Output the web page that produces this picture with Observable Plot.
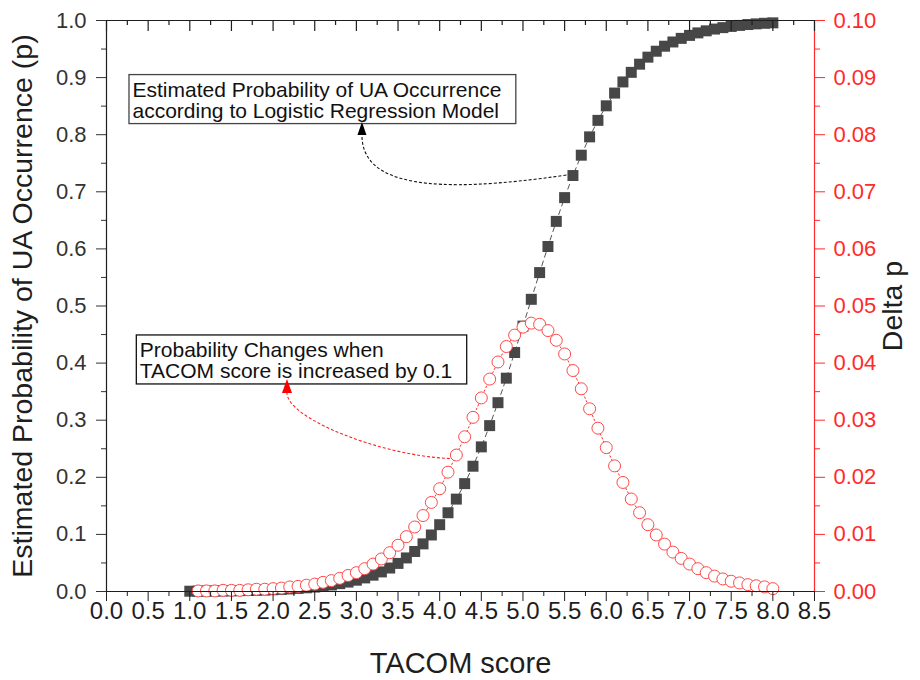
<!DOCTYPE html>
<html><head><meta charset="utf-8">
<script src="https://cdn.jsdelivr.net/npm/d3@7"></script>
<script src="https://cdn.jsdelivr.net/npm/@observablehq/plot@0.6"></script>
<style>
body{margin:0;background:#fff;}
#chart{width:920px;height:680px;}
#chart svg{font-family:"Liberation Sans",Arial,sans-serif;}
</style></head><body><div id="chart"></div>
<script>
// ---- data ----
const score = [1.0,1.1,1.2,1.3,1.4,1.5,1.6,1.7,1.8,1.9,2.0,2.1,2.2,2.3,2.4,2.5,2.6,2.7,2.8,2.9,3.0,3.1,3.2,3.3,3.4,3.5,3.6,3.7,3.8,3.9,4.0,4.1,4.2,4.3,4.4,4.5,4.6,4.7,4.8,4.9,5.0,5.1,5.2,5.3,5.4,5.5,5.6,5.7,5.8,5.9,6.0,6.1,6.2,6.3,6.4,6.5,6.6,6.7,6.8,6.9,7.0,7.1,7.2,7.3,7.4,7.5,7.6,7.7,7.8,7.9,8.0];
const probability = [0.0005,0.0006,0.0007,0.0008,0.0010,0.0012,0.0015,0.0018,0.0021,0.0026,0.0031,0.0037,0.0045,0.0054,0.0065,0.0078,0.0094,0.0114,0.0137,0.0165,0.0198,0.0238,0.0286,0.0343,0.0411,0.0492,0.0588,0.0701,0.0834,0.0990,0.1170,0.1379,0.1618,0.1889,0.2194,0.2533,0.2905,0.3307,0.3736,0.4185,0.4648,0.5117,0.5585,0.6042,0.6482,0.6898,0.7285,0.7641,0.7962,0.8251,0.8506,0.8729,0.8924,0.9092,0.9235,0.9358,0.9462,0.9550,0.9624,0.9687,0.9739,0.9783,0.9819,0.9850,0.9875,0.9896,0.9914,0.9929,0.9941,0.9951,0.9959];
const deltaScore = [1.1,1.2,1.3,1.4,1.5,1.6,1.7,1.8,1.9,2.0,2.1,2.2,2.3,2.4,2.5,2.6,2.7,2.8,2.9,3.0,3.1,3.2,3.3,3.4,3.5,3.6,3.7,3.8,3.9,4.0,4.1,4.2,4.3,4.4,4.5,4.6,4.7,4.8,4.9,5.0,5.1,5.2,5.3,5.4,5.5,5.6,5.7,5.8,5.9,6.0,6.1,6.2,6.3,6.4,6.5,6.6,6.7,6.8,6.9,7.0,7.1,7.2,7.3,7.4,7.5,7.6,7.7,7.8,7.9,8.0];
const deltaP = [0.0001,0.0001,0.0001,0.0002,0.0002,0.0002,0.0003,0.0004,0.0004,0.0005,0.0006,0.0008,0.0009,0.0011,0.0013,0.0016,0.0019,0.0023,0.0028,0.0033,0.0040,0.0048,0.0057,0.0068,0.0081,0.0096,0.0113,0.0133,0.0156,0.0180,0.0209,0.0239,0.0271,0.0305,0.0339,0.0372,0.0402,0.0429,0.0449,0.0463,0.0470,0.0468,0.0457,0.0440,0.0416,0.0387,0.0355,0.0320,0.0286,0.0252,0.0220,0.0191,0.0162,0.0138,0.0117,0.0099,0.0083,0.0069,0.0058,0.0048,0.0040,0.0033,0.0027,0.0022,0.0018,0.0015,0.0012,0.0010,0.0008,0.0005];

const xDomain = [0, 8.5];
const pDomain = [0, 1.0];
const deltaDomain = [0, 0.10];
const xMajorTicks = [0,0.5,1.0,1.5,2.0,2.5,3.0,3.5,4.0,4.5,5.0,5.5,6.0,6.5,7.0,7.5,8.0,8.5];
const xMinorTicks = [0.25,0.75,1.25,1.75,2.25,2.75,3.25,3.75,4.25,4.75,5.25,5.75,6.25,6.75,7.25,7.75,8.25];
const pTicks = [0,0.1,0.2,0.3,0.4,0.5,0.6,0.7,0.8,0.9,1.0];
const pMinorTicks = [0.05,0.15,0.25,0.35,0.45,0.55,0.65,0.75,0.85,0.95];
const deltaTicks = [0,0.01,0.02,0.03,0.04,0.05,0.06,0.07,0.08,0.09,0.10];
const deltaMinorTicks = [0.005,0.015,0.025,0.035,0.045,0.055,0.065,0.075,0.085,0.095];

const xLabel = "TACOM score";
const yLabel = "Estimated Probability of UA Occurrence (p)";
const y2Label = "Delta p";

const noteTexts = [
  "Estimated Probability of UA Occurrence\naccording to Logistic Regression Model",
  "Probability Changes when\nTACOM score is increased by 0.1"
];
// anchor of each note text (data units) and the point it refers to
const noteX = [0.312, 0.400];
const noteY = [0.892, 0.436];
const noteTargetScore = [5.6, 4.2];
const noteHeadX = [3.073, 2.173];
const noteHeadY = [0.7986, 0.3468];

// ---- build ----
const W = 920, H = 680, mL = 106, mR = 106, mT = 20, mB = 89;
const frameH = H - mT - mB;
const ratio = pDomain[1] / deltaDomain[1];
const pData = score.map((s, i) => ({x: s, p: probability[i]}));
const dData = deltaScore.map((s, i) => ({x: s, d: deltaP[i]}));
const notes = noteTexts.map((t, i) => ({text: t, x: noteX[i], y: noteY[i]}));

const BLACK = "#1e1e1e", RED = "#ff2a2a";

const chart = Plot.plot({
  width: W, height: H,
  marginLeft: mL, marginRight: mR, marginTop: mT, marginBottom: mB,
  style: {fontFamily: '"Liberation Sans", Arial, sans-serif', background: "#fff"},
  x: {domain: xDomain, axis: null},
  y: {domain: pDomain, axis: null},
  marks: [
    // data
    Plot.line(dData, {x: "x", y: d => d.d * ratio, stroke: RED, strokeWidth: 1, strokeDasharray: "1.5,2.5"}),
    Plot.line(pData, {x: "x", y: "p", stroke: "#555", strokeWidth: 1, strokeDasharray: "5,4"}),
    Plot.dot(pData, {x: "x", y: "p", symbol: "square", r: 6.2, fill: "#474747", stroke: "none"}),
    Plot.dot(dData, {x: "x", y: d => d.d * ratio, r: 6, stroke: "#ff4848", strokeWidth: 1, fill: "white"}),
    // frame lines
    Plot.ruleY([pDomain[1]], {stroke: BLACK, strokeWidth: 1.2}),
    Plot.ruleY([pDomain[0]], {stroke: BLACK, strokeWidth: 1.2}),
    Plot.ruleX([xDomain[0]], {stroke: BLACK, strokeWidth: 1.2}),
    Plot.ruleX([xDomain[1]], {stroke: RED, strokeWidth: 1.2}),
    // bottom axis
    Plot.axisX(xMajorTicks, {anchor: "bottom", tickSize: 10, tickPadding: 0, tickFormat: d => d.toFixed(1), fontSize: 24, label: null, color: BLACK}),
    Plot.axisX(xMinorTicks, {anchor: "bottom", tickSize: 5, tickFormat: () => "", label: null, color: BLACK}),
    // top ticks (inward)
    Plot.ruleX(xMajorTicks, {x: d => d, insetBottom: frameH - 11, stroke: BLACK, strokeWidth: 1.2}),
    Plot.ruleX(xMinorTicks, {x: d => d, insetBottom: frameH - 5, stroke: BLACK, strokeWidth: 1.2}),
    // left axis
    Plot.axisY(pTicks, {anchor: "left", tickSize: 10, tickPadding: 10, tickFormat: d => d.toFixed(1), fontSize: 22, label: null, color: "#333"}),
    Plot.axisY(pMinorTicks, {anchor: "left", tickSize: 5, tickFormat: () => "", label: null, color: "#333"}),
    // right axis (delta p)
    Plot.axisY(deltaTicks.map(d => d * ratio), {anchor: "right", tickSize: 10, tickPadding: 9, tickFormat: d => (d / ratio).toFixed(2), fontSize: 22, label: null, color: RED}),
    Plot.axisY(deltaMinorTicks.map(d => d * ratio), {anchor: "right", tickSize: 5, tickFormat: () => "", label: null, color: RED}),
    // axis titles
    Plot.text([xLabel], {text: d => d, frameAnchor: "bottom", textAnchor: "middle", lineAnchor: "middle", dy: 72, fontSize: 29, fill: BLACK}),
    Plot.text([yLabel], {text: d => d, frameAnchor: "left", textAnchor: "middle", lineAnchor: "middle", dx: -84, rotate: -90, fontSize: 28.5, fill: BLACK}),
    Plot.text([y2Label], {text: d => d, frameAnchor: "right", textAnchor: "middle", lineAnchor: "middle", dx: 78, rotate: -90, fontSize: 28.5, fill: BLACK}),
    // notes
    Plot.text(notes, {x: "x", y: "y", text: "text", textAnchor: "start", lineAnchor: "top", lineHeight: 1.0, fontSize: 21, fill: "#111", className: "note"})
  ]
});
document.getElementById("chart").appendChild(chart);

// ---- annotation boxes and curved arrows ----
const sx = chart.scale("x"), sy = chart.scale("y");
const svg = d3.select(chart);
const svgRect = chart.getBoundingClientRect();
svg.selectAll("text").each(function() {
  const el = this;
  const idx = noteTexts.findIndex(t => el.textContent.replace(/\s/g, "") === t.replace(/\s/g, ""));
  if (idx < 0) return;
  const r = el.getBoundingClientRect();
  const x0 = r.left - svgRect.left - 4, y0 = r.top - svgRect.top - 4;
  const x1 = r.right - svgRect.left + 14, y1 = r.bottom - svgRect.top + 1;
  d3.select(el.parentNode).insert("rect", ":first-child")
    .attr("x", x0).attr("y", y0).attr("width", x1 - x0).attr("height", y1 - y0)
    .attr("fill", "white").attr("stroke", idx === 0 ? "#444" : "#111").attr("stroke-width", 1.3);
});

const arrows = svg.append("g");
// black arrow: from the probability square to note 0
{
  const i = score.indexOf(noteTargetScore[0]);
  const tx = sx.apply(score[i]) - 6, ty = sy.apply(probability[i]);
  const bx = sx.apply(noteHeadX[0]), by = sy.apply(noteHeadY[0]);
  arrows.append("path")
    .attr("d", `M${tx},${ty} C${tx - 136},${ty + 20} ${bx},${by + 50} ${bx},${by}`)
    .attr("fill", "none").attr("stroke", "#111").attr("stroke-width", 1.1).attr("stroke-dasharray", "3,2");
  arrows.append("path")
    .attr("d", `M${bx},${by - 13} L${bx - 4.5},${by} L${bx + 4.5},${by} Z`).attr("fill", "#000");
}
// red arrow: from the delta circle to note 1
{
  const i = deltaScore.indexOf(noteTargetScore[1]);
  const tx = sx.apply(deltaScore[i]) - 6, ty = sy.apply(deltaP[i] * ratio) + 4;
  const bx = sx.apply(noteHeadX[1]), by = sy.apply(noteHeadY[1]);
  arrows.append("path")
    .attr("d", `M${tx},${ty} C${tx - 70},${ty - 3} ${bx},${by + 25} ${bx},${by}`)
    .attr("fill", "none").attr("stroke", "#ff2020").attr("stroke-width", 1.1).attr("stroke-dasharray", "3,2");
  arrows.append("path")
    .attr("d", `M${bx},${by - 14} L${bx - 5},${by} L${bx + 5},${by} Z`).attr("fill", "#ff0000");
}
</script>
</body></html>
